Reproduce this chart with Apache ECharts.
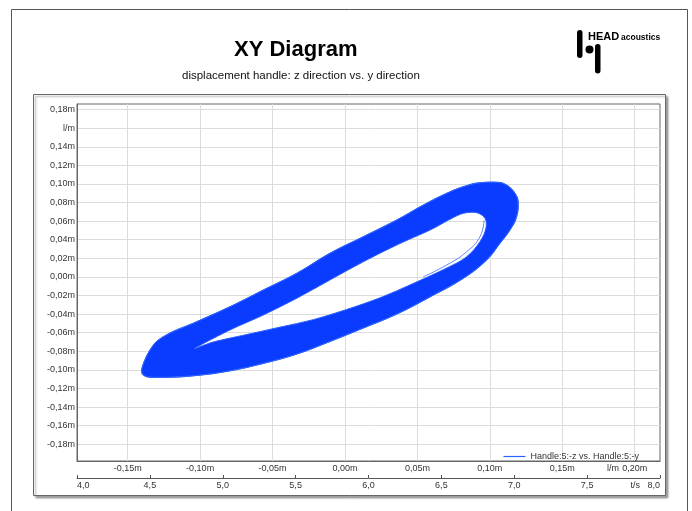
<!DOCTYPE html>
<html>
<head>
<meta charset="utf-8">
<script src="https://cdn.jsdelivr.net/npm/echarts@6/dist/echarts.min.js"></script>
<style>
  html, body { margin: 0; padding: 0; background: #fff; }
  #xy { width: 692px; height: 511px; }
</style>
</head>
<body>
<div id="xy"></div>
<script>
  // tick values of the axes
  var yTicks = [-0.18, -0.16, -0.14, -0.12, -0.10, -0.08, -0.06, -0.04, -0.02, 0, 0.02, 0.04, 0.06, 0.08, 0.10, 0.12, 0.14, 0.16, 0.18];
  var xTicks = [-0.15, -0.10, -0.05, 0, 0.05, 0.10, 0.15, 0.20];
  var tTicks = [4.0, 4.5, 5.0, 5.5, 6.0, 6.5, 7.0, 7.5, 8.0];

  // outer edge of the orbit band, [y direction (m), z direction (m)]
  var outerEdge = [
    [-0.1404, -0.1001], [-0.1346, -0.0786], [-0.1254, -0.0643], [-0.1024, -0.0482],
    [-0.0794, -0.0321], [-0.0564, -0.0141], [-0.0333, 0.0039], [-0.0104, 0.0254],
    [0.0126, 0.0432], [0.0357, 0.0612], [0.0541, 0.0773], [0.0702, 0.0899],
    [0.0817, 0.0970], [0.0932, 0.1013], [0.1047, 0.1018], [0.1116, 0.0988],
    [0.1174, 0.0899], [0.1196, 0.0792], [0.1185, 0.0648], [0.1139, 0.0504],
    [0.1070, 0.0361], [0.0978, 0.0182], [0.0817, -0.0015], [0.0587, -0.0215],
    [0.0357, -0.0400], [0.0126, -0.0550], [-0.0104, -0.0695], [-0.0333, -0.0830],
    [-0.0564, -0.0930], [-0.0794, -0.1010], [-0.1024, -0.1060], [-0.1254, -0.1080],
    [-0.1369, -0.1073]
  ];

  // inner edge (the hole) of the orbit band
  var innerEdge = [
    [-0.1036, -0.0768], [-0.0794, -0.0571], [-0.0564, -0.0410], [-0.0333, -0.0230],
    [-0.0104, -0.0033], [0.0126, 0.0163], [0.0357, 0.0343], [0.0587, 0.0504],
    [0.0725, 0.0620], [0.0817, 0.0684], [0.0909, 0.0691], [0.0967, 0.0630],
    [0.0973, 0.0523], [0.0932, 0.0379], [0.0840, 0.0217], [0.0702, 0.0095],
    [0.0472, -0.0070], [0.0242, -0.0225], [0.0012, -0.0350], [-0.0219, -0.0460],
    [-0.0449, -0.0540], [-0.0679, -0.0620], [-0.0909, -0.0700]
  ];

  // single stray orbit crossing the hole near its right end
  var strayOrbit = [
    [0.0960, 0.0610], [0.0932, 0.0433], [0.0840, 0.0271], [0.0702, 0.0128], [0.0541, 0.0002]
  ];

  var seriesName = 'Handle:5:-z vs. Handle:5:-y';

  function fmt(v, digits) {
    return v.toFixed(digits).replace('.', ',');
  }

  // closed catmull-rom curve through the given pixel points
  function loopPath(pts) {
    var n = pts.length, d = 'M' + pts[0][0] + ' ' + pts[0][1];
    for (var i = 0; i < n; i++) {
      var p0 = pts[(i - 1 + n) % n], p1 = pts[i], p2 = pts[(i + 1) % n], p3 = pts[(i + 2) % n];
      d += ' C' + (p1[0] + (p2[0] - p0[0]) / 6) + ' ' + (p1[1] + (p2[1] - p0[1]) / 6) +
           ' ' + (p2[0] - (p3[0] - p1[0]) / 6) + ' ' + (p2[1] - (p3[1] - p1[1]) / 6) +
           ' ' + p2[0] + ' ' + p2[1];
    }
    return d + ' Z';
  }

  function closed(arr) {
    return arr.concat([arr[0]]);
  }

  var myChart = echarts.init(document.getElementById('xy'));
  var option = {
    backgroundColor: '#fff',
    animation: false,
    title: [
      {
        text: 'XY Diagram',
        left: 229, top: 34,
        textStyle: { fontFamily: 'Liberation Sans', fontSize: 22, fontWeight: 'bold', color: '#000' }
      },
      {
        text: 'displacement handle: z direction vs. y direction',
        left: 177, top: 65,
        textStyle: { fontFamily: 'Liberation Sans', fontSize: 11.5, fontWeight: 'normal', color: '#111' }
      }
    ],
    graphic: [
      // outer page frame
      { type: 'polyline', silent: true, z: -10, shape: { points: [[11.5, 511], [11.5, 9.5], [687.5, 9.5], [687.5, 511]] }, style: { stroke: '#555', lineWidth: 1, fill: null } },
      // diagram box
      { type: 'rect', silent: true, z: -10, shape: { x: 33.5, y: 94.5, width: 632, height: 401 },
        style: { fill: '#fff', stroke: '#666', lineWidth: 1, shadowBlur: 2, shadowOffsetX: 2, shadowOffsetY: 2, shadowColor: 'rgba(0,0,0,0.35)' } },
      // HEAD acoustics logo
      { type: 'rect', silent: true, shape: { x: 577, y: 30, width: 5.5, height: 28, r: 2.75 }, style: { fill: '#000' } },
      { type: 'circle', silent: true, shape: { cx: 589.5, cy: 49.5, r: 4 }, style: { fill: '#000' } },
      { type: 'rect', silent: true, shape: { x: 595, y: 44, width: 5.5, height: 29.5, r: 2.75 }, style: { fill: '#000' } },
      { type: 'text', silent: true, x: 588, y: 42.5, style: { text: 'HEAD', fontFamily: 'Liberation Sans', fontWeight: 'bold', fontSize: 11, fill: '#000', verticalAlign: 'bottom' } },
      { type: 'text', silent: true, x: 621, y: 42, style: { text: 'acoustics', fontFamily: 'Liberation Sans', fontWeight: 'bold', fontSize: 8.5, fill: '#000', verticalAlign: 'bottom' } },
      // axis unit label of the displacement axis
      { type: 'text', silent: true, x: 607, y: 464, style: { text: 'l/m', fontFamily: 'Liberation Sans', fontSize: 9, fill: '#333' } }
    ],
    legend: {
      data: [{ name: seriesName, icon: 'rect' }],
      right: 48, top: 447,
      itemWidth: 22, itemHeight: 1.2, itemGap: 4,
      textStyle: { fontFamily: 'Liberation Sans', fontSize: 9, color: '#333' }
    },
    grid: {
      left: 77, top: 104, right: 32, bottom: 50,
      show: true, borderColor: '#666', borderWidth: 1
    },
    xAxis: [
      {
        type: 'value',
        min: -0.185, max: 0.2175,
        axisLine: { show: true, onZero: false, lineStyle: { color: '#666' } },
        axisTick: { show: false, customValues: xTicks },
        axisLabel: {
          customValues: xTicks, margin: 3,
          fontFamily: 'Liberation Sans', fontSize: 9, color: '#333',
          formatter: function (v) { return fmt(v, 2) + 'm'; }
        },
        splitLine: { show: true, lineStyle: { color: '#dcdcdc' } }
      },
      {
        type: 'value',
        position: 'bottom', offset: 17,
        min: tTicks[0], max: tTicks[tTicks.length - 1], interval: 0.5,
        axisLine: { show: true, onZero: false, lineStyle: { color: '#555' } },
        axisTick: { show: true, inside: true, length: 3, lineStyle: { color: '#555' } },
        axisLabel: {
          margin: 3, alignMinLabel: 'left', alignMaxLabel: 'right',
          fontFamily: 'Liberation Sans', fontSize: 9, color: '#333',
          formatter: function (v) { return v === 8 ? 't/s   ' + fmt(v, 1) : fmt(v, 1); }
        },
        splitLine: { show: false }
      }
    ],
    yAxis: {
      type: 'value',
      min: -0.198, max: 0.186,
      axisLine: { show: true, onZero: false, lineStyle: { color: '#666' } },
      axisTick: { show: false, customValues: yTicks },
      axisLabel: {
        customValues: yTicks, margin: 2,
        fontFamily: 'Liberation Sans', fontSize: 9, color: '#333',
        formatter: function (v) { return Math.abs(v - 0.16) < 1e-9 ? 'l/m' : fmt(v, 2) + 'm'; }
      },
      splitLine: { show: true, lineStyle: { color: '#dcdcdc' } }
    },
    series: [
      {
        // the dense band of overlapping orbits
        name: 'band',
        type: 'custom',
        xAxisIndex: 0,
        data: [[0, 0]],
        renderItem: function (params, api) {
          var outer = outerEdge.map(function (p) { return api.coord(p); });
          var inner = innerEdge.map(function (p) { return api.coord(p); }).reverse();
          return {
            type: 'path',
            shape: { pathData: loopPath(outer) + ' ' + loopPath(inner) },
            style: { fill: '#0a3cff', stroke: '#2a5cff', lineWidth: 1 }
          };
        },
        z: 3
      },
      {
        name: seriesName,
        type: 'line',
        xAxisIndex: 0,
        data: closed(outerEdge),
        smooth: 0.5,
        symbol: 'none',
        lineStyle: { color: '#2a62ff', width: 1 },
        itemStyle: { color: '#2a62ff' },
        z: 4
      },
      {
        name: 'stray',
        type: 'line',
        xAxisIndex: 0,
        data: strayOrbit,
        smooth: true,
        symbol: 'none',
        lineStyle: { color: '#3a66ff', width: 0.8 },
        z: 4
      }
    ]
  };
  myChart.setOption(option);
</script>
</body>
</html>
